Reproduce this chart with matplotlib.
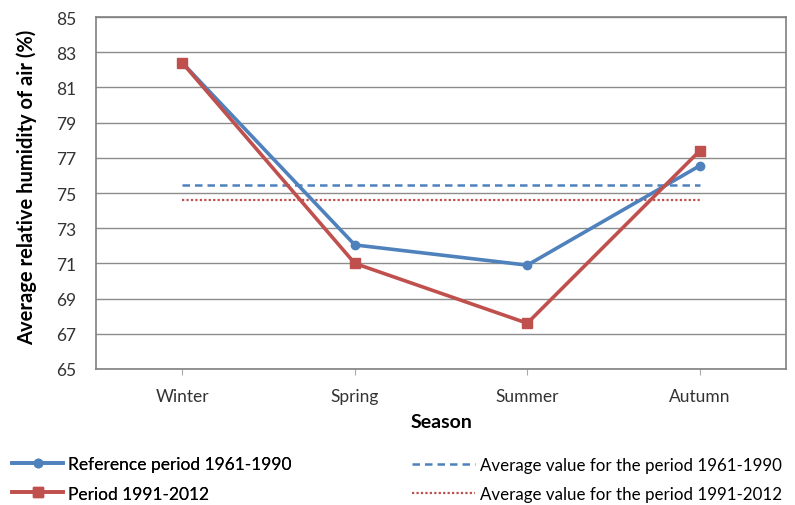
import matplotlib
matplotlib.use("Agg")
import matplotlib.pyplot as plt
from matplotlib.lines import Line2D

plt.rcParams['font.family'] = ['Lato', 'DejaVu Sans']

seasons = ["Winter", "Spring", "Summer", "Autumn"]
ref_1961_1990 = [82.4, 72.05, 70.9, 76.55]
per_1991_2012 = [82.4, 71.0, 67.6, 77.4]
avg_1961_1990 = 75.47
avg_1991_2012 = 74.6
yticks = list(range(65, 86, 2))

blue = "#4F81BD"
red = "#C0504D"

fig = plt.figure(figsize=(7.95, 5.06), dpi=100)
ax = fig.add_axes([0.1208, 0.2688, 0.8679, 0.6956])

x = list(range(len(seasons)))
ax.plot(x, ref_1961_1990, color=blue, lw=2.6, marker='o', ms=6, zorder=4)
ax.plot(x, per_1991_2012, color=red, lw=2.6, marker='s', ms=7, zorder=5)
ax.plot([x[0], x[-1]], [avg_1961_1990] * 2, color=blue, lw=1.8, ls=(0, (3, 2)), zorder=3)
ax.plot([x[0], x[-1]], [avg_1991_2012] * 2, color=red, lw=1.6, ls=(0, (1, 1)), zorder=3)

ax.set_xlim(-0.5, len(seasons) - 0.5)
ax.set_ylim(65, 85)
ax.set_yticks(yticks)
ax.set_yticklabels([str(v) for v in yticks], fontsize=12.5, color="#333333")
ax.set_xticks(x)
ax.set_xticklabels(seasons, fontsize=12.5, color="#333333")
ax.tick_params(axis='y', direction='out', length=0, pad=14)
ax.tick_params(axis='x', direction='out', length=4, color="#aaaaaa", pad=10)
ax.yaxis.grid(True, color="#8c8c8c", lw=1.0)
ax.set_axisbelow(True)
for s in ax.spines.values():
    s.set_color("#808080")
    s.set_linewidth(1.2)

ax.set_xlabel("Season", fontsize=14, fontweight='bold', labelpad=6)
ax.set_ylabel("Average relative humidity of air (%)", fontsize=14.5, fontweight='bold')
ax.yaxis.set_label_coords(-0.086, 0.52)

h1 = Line2D([], [], color=blue, lw=2.6, marker='o', ms=6)
h2 = Line2D([], [], color=red, lw=2.6, marker='s', ms=7)
h3 = Line2D([], [], color=blue, lw=1.8, ls=(0, (3, 2)))
h4 = Line2D([], [], color=red, lw=1.6, ls=(0, (1, 1)))
leg1 = fig.legend([h1, h2], ["Reference period 1961-1990", "Period 1991-2012"],
                  loc='lower left', bbox_to_anchor=(-0.004, -0.024), frameon=False,
                  fontsize=12.5, handlelength=2.9, handletextpad=0.3, labelspacing=0.75)
fig.add_artist(leg1)
fig.legend([h3, h4], ["Average value for the period 1961-1990", "Average value for the period 1991-2012"],
           loc='lower left', bbox_to_anchor=(0.499, -0.024), frameon=False,
           fontsize=12.2, handlelength=3.7, handletextpad=0.3, labelspacing=0.78)

fig.savefig("out.png", dpi=100)
